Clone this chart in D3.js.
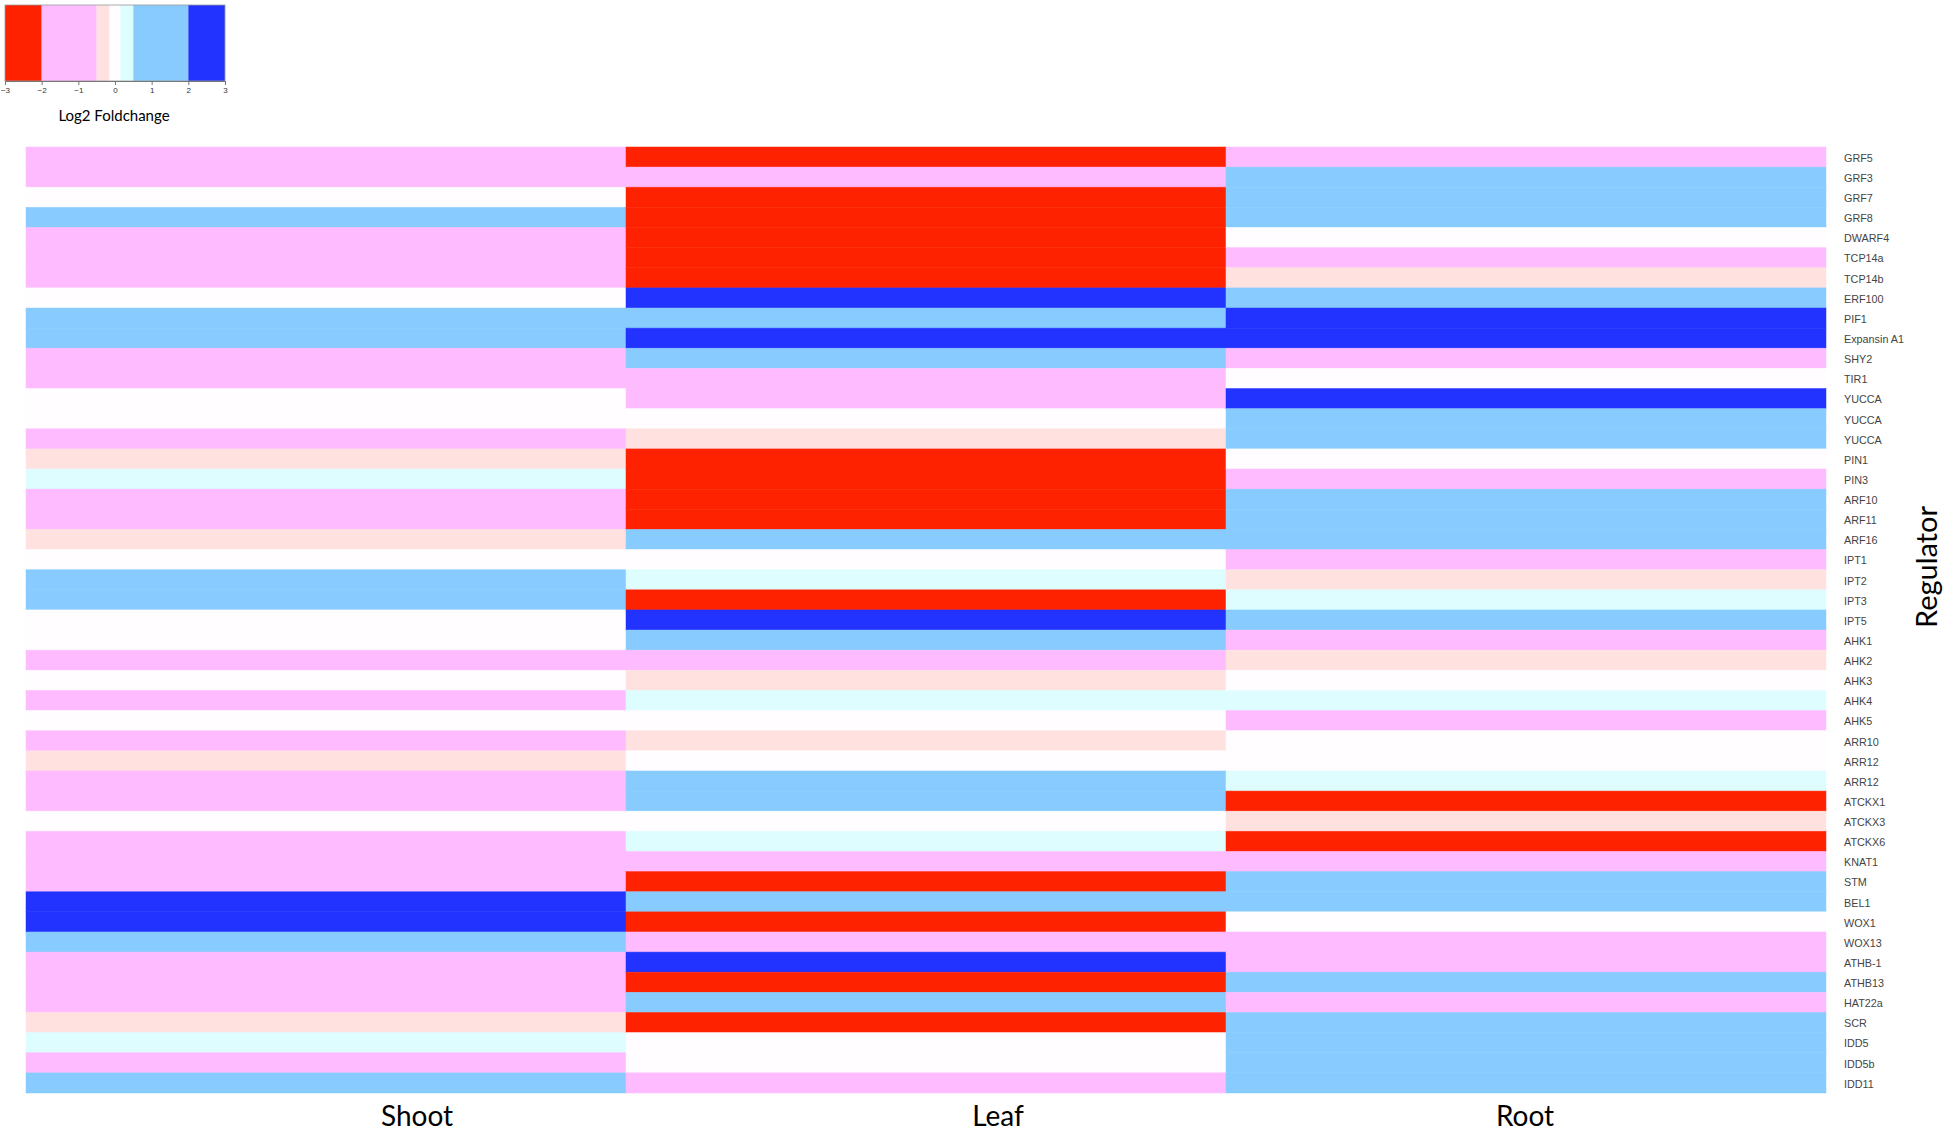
<!DOCTYPE html>
<html>
<head>
<meta charset="utf-8">
<script src="https://cdn.jsdelivr.net/npm/d3@7"></script>
<style>
    body { margin: 0; background: #fff; }
    svg { display: block; }
</style>
</head>
<body>
<script>
//heatmap of log2 foldchange of growth regulators by tissue

//rows, top to bottom
var regulators = ["GRF5", "GRF3", "GRF7", "GRF8", "DWARF4", "TCP14a", "TCP14b", "ERF100", "PIF1", "Expansin A1",
    "SHY2", "TIR1", "YUCCA", "YUCCA", "YUCCA", "PIN1", "PIN3", "ARF10", "ARF11", "ARF16",
    "IPT1", "IPT2", "IPT3", "IPT5", "AHK1", "AHK2", "AHK3", "AHK4", "AHK5", "ARR10",
    "ARR12", "ARR12", "ATCKX1", "ATCKX3", "ATCKX6", "KNAT1", "STM", "BEL1", "WOX1", "WOX13",
    "ATHB-1", "ATHB13", "HAT22a", "SCR", "IDD5", "IDD5b", "IDD11"];

var tissues = ["Shoot", "Leaf", "Root"];

//log2 foldchange per tissue (estimated from colour class)
var shootFC = [-1.2, -1.2, 0, 1.2, -1.2, -1.2, -1.2, 0, 1.2, 1.2,
    -1.2, -1.2, 0, 0, -1.2, -0.3, 0.3, -1.2, -1.2, -0.3,
    0, 1.2, 1.2, 0, 0, -1.2, 0, -1.2, 0, -1.2,
    -0.3, -1.2, -1.2, 0, -1.2, -1.2, -1.2, 2.5, 2.5, 1.2,
    -1.2, -1.2, -1.2, -0.3, 0.3, -1.2, 1.2];

var leafFC = [-2.5, -1.2, -2.5, -2.5, -2.5, -2.5, -2.5, 2.5, 1.2, 2.5,
    1.2, -1.2, -1.2, 0, -0.3, -2.5, -2.5, -2.5, -2.5, 1.2,
    0, 0.3, -2.5, 2.5, 1.2, -1.2, -0.3, 0.3, 0, -0.3,
    0, 1.2, 1.2, 0, 0.3, -1.2, -2.5, 1.2, -2.5, -1.2,
    2.5, -2.5, 1.2, -2.5, 0, 0, -1.2];

var rootFC = [-1.2, 1.2, 1.2, 1.2, 0, -1.2, -0.3, 1.2, 2.5, 2.5,
    -1.2, 0, 2.5, 1.2, 1.2, 0, -1.2, 1.2, 1.2, 1.2,
    -1.2, -0.3, 0.3, 1.2, -1.2, -0.3, 0, 0.3, -1.2, 0,
    0, 0.3, -2.5, -0.3, -2.5, -1.2, 1.2, 1.2, 0, -1.2,
    -1.2, 1.2, -1.2, 1.2, 1.2, 1.2, 1.2];

//colour classes and their breaks
var breaks = [-2, -0.5, -0.15, 0.15, 0.5, 2];
var colorClasses = ["#ff2200", "#ffbbff", "#ffe2e0", "#fffdff", "#ddfdff", "#88ccff", "#2233ff"];
var legendTicks = [-3, -2, -1, 0, 1, 2, 3];

window.onload = setChart();

function setChart(){

    var width = 1946,
        height = 1134;

    var svg = d3.select("body")
        .append("svg")
        .attr("width", width)
        .attr("height", height);

    var colorScale = d3.scaleThreshold()
        .domain(breaks)
        .range(colorClasses);

    //x for tissues, y for rows (by index since some names repeat)
    var x = d3.scaleBand()
        .domain(tissues)
        .range([26, 1826]);

    var y = d3.scaleBand()
        .domain(d3.range(regulators.length))
        .range([147, 1093]);

    //flatten to cells
    var series = [shootFC, leafFC, rootFC];
    var cells = [];
    tissues.forEach(function(t, j){
        series[j].forEach(function(v, i){
            cells.push({tissue: t, row: i, value: v});
        });
    });

    svg.append("g")
        .attr("class", "cells")
        .selectAll("rect")
        .data(cells)
        .enter()
        .append("rect")
        .attr("x", function(d){ return x(d.tissue); })
        .attr("y", function(d){ return y(d.row); })
        .attr("width", x.bandwidth())
        .attr("height", y.bandwidth())
        .style("fill", function(d){ return colorScale(d.value); })
        .style("stroke", function(d){ return colorScale(d.value); })
        .style("stroke-opacity", 0.6)
        .style("stroke-width", 0.8);

    //row labels on the right
    svg.append("g")
        .selectAll("text")
        .data(regulators)
        .enter()
        .append("text")
        .attr("x", 1844)
        .attr("y", function(d, i){ return y(i) + y.bandwidth() / 2 + 1; })
        .attr("dy", "0.35em")
        .style("font-family", "'Liberation Sans', Arial, sans-serif")
        .style("font-size", "10.8px")
        .style("fill", "#444")
        .text(function(d){ return d; });

    //column labels (not quite centred in the original)
    var labelShift = [91, 72, -1];
    svg.append("g")
        .selectAll("text")
        .data(tissues)
        .enter()
        .append("text")
        .attr("x", function(d, i){ return x(d) + x.bandwidth() / 2 + labelShift[i]; })
        .attr("y", 1126)
        .attr("text-anchor", "middle")
        .style("font-family", "Lato, sans-serif")
        .style("font-size", "28px")
        .style("fill", "#000")
        .text(function(d){ return d; });

    svg.append("text")
        .attr("transform", "translate(1937,567) rotate(-90)")
        .attr("text-anchor", "middle")
        .style("font-family", "Lato, sans-serif")
        .style("font-size", "29px")
        .style("fill", "#000")
        .text("Regulator");

    makeLegend(svg, colorScale);
};

//colour key in the top left corner
function makeLegend(svg, colorScale){
    var lx = d3.scaleLinear()
        .domain([-3, 3])
        .range([5, 225]);

    var edges = [-3].concat(breaks).concat([3]);
    var bands = d3.pairs(edges);

    var legend = svg.append("g").attr("class", "legend");

    legend.selectAll("rect")
        .data(bands)
        .enter()
        .append("rect")
        .attr("x", function(d){ return lx(d[0]); })
        .attr("y", 5)
        .attr("width", function(d){ return lx(d[1]) - lx(d[0]); })
        .attr("height", 76)
        .style("fill", function(d){ return colorScale((d[0] + d[1]) / 2); });

    legend.append("rect")
        .attr("x", lx(-3))
        .attr("y", 5)
        .attr("width", lx(3) - lx(-3))
        .attr("height", 76)
        .style("fill", "none")
        .style("stroke", "#999")
        .style("stroke-width", 0.8);

    var axis = legend.append("g")
        .attr("transform", "translate(0,81)")
        .call(d3.axisBottom(lx)
            .tickValues(legendTicks)
            .tickFormat(d3.format("d"))
            .tickSize(4)
            .tickSizeOuter(0));

    axis.select(".domain").attr("stroke", "#777");
    axis.selectAll(".tick line").attr("stroke", "#777");
    axis.selectAll("text")
        .attr("y", 6)
        .style("font-family", "'Liberation Sans', Arial, sans-serif")
        .style("font-size", "8px")
        .style("fill", "#333");

    legend.append("text")
        .attr("x", 114)
        .attr("y", 121)
        .attr("text-anchor", "middle")
        .style("font-family", "Lato, sans-serif")
        .style("font-size", "15px")
        .style("fill", "#000")
        .text("Log2 Foldchange");
};
</script>
</body>
</html>
